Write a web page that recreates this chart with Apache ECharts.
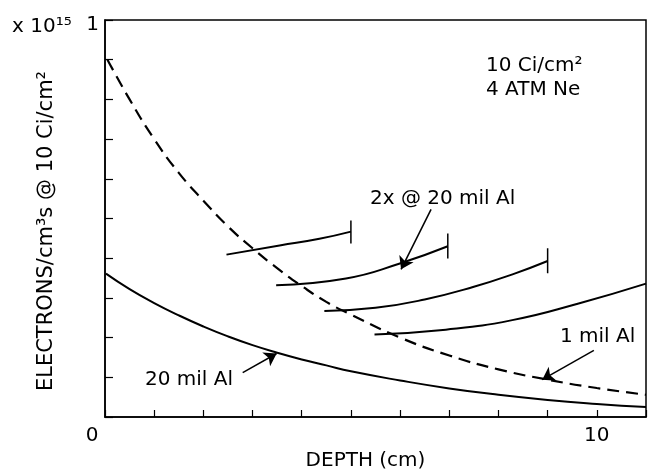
<!DOCTYPE html>
<html>
<head>
<meta charset="utf-8">
<script src="https://cdn.jsdelivr.net/npm/echarts@6/dist/echarts.min.js"></script>
<style>html,body{margin:0;padding:0;background:#fff}#c{width:648px;height:469px}</style>
</head>
<body>
<div id="c"></div>
<script>
// ---- data (depth cm, electrons/cm^3 s x1e15) ----
const mil1Al = [[0.05,0.90],[0.5,0.80],[1,0.70],[1.5,0.615],[2,0.545],[2.5,0.48],[3,0.425],[3.5,0.375],[4,0.33],[4.5,0.29],[5,0.258],[6,0.200],[7,0.155],[8,0.120],[9,0.094],[10,0.073],[11,0.056]];
const mil20Al = [[0.02,0.361],[0.5,0.322],[1,0.287],[1.5,0.256],[2,0.228],[2.5,0.203],[3,0.181],[3.5,0.162],[4,0.145],[4.5,0.130],[5,0.115],[6,0.092],[7,0.072],[8,0.056],[9,0.043],[10,0.033],[11,0.025]];
const twoxA = [[2.47,0.409],[3.55,0.432],[4.36,0.449],[5.0,0.467]];
const twoxB = [[3.48,0.332],[4.90,0.349],[5.98,0.386],[6.97,0.430]];
const twoxC = [[4.46,0.267],[5.5,0.275],[6.5,0.296],[7.5,0.328],[8.3,0.360],[9.0,0.393]];
const twoxD = [[5.48,0.208],[6.93,0.220],[8.28,0.244],[9.63,0.286],[11.0,0.336]];
// end ticks of the short curves: [x, yLow, yHigh]
const endTicks = [[5.0,0.437,0.495],[6.97,0.399,0.462],[9.0,0.362,0.425]];
// arrows: [fromX, fromY, toX, toY]
const arrow20 = [2.80,0.112,3.49,0.160];
const arrow1 = [9.94,0.168,8.89,0.094];
const arrow2x = [6.63,0.523,6.02,0.372];
const xTickLabels = {0:'0',10:'10'};
const yTickLabels = ['1'];

const FONT = 'DejaVu Sans';
const chart = echarts.init(document.getElementById('c'), null, {renderer:'canvas'});
const solid = {color:'#000', width:2, type:'solid'};
function arrowML(a){
  return {silent:true, symbol:['none','arrow'], symbolSize:12, label:{show:false},
    itemStyle:{color:'#000'},
    lineStyle:{color:'#000', width:1.5, type:'solid'},
    data:[[{coord:[a[0],a[1]]},{coord:[a[2],a[3]]}]]};
}
const series = [
  {name:'1 mil Al', type:'line', data:mil1Al, smooth:true, symbol:'none', lineStyle:{color:'#000', width:2.2, type:[12,7]}, markLine:arrowML(arrow1)},
  {name:'20 mil Al', type:'line', data:mil20Al, smooth:true, symbol:'none', lineStyle:solid, markLine:arrowML(arrow20)},
  {name:'2x A', type:'line', data:twoxA, smooth:true, symbol:'none', lineStyle:solid},
  {name:'2x B', type:'line', data:twoxB, smooth:true, symbol:'none', lineStyle:solid, markLine:arrowML(arrow2x)},
  {name:'2x C', type:'line', data:twoxC, smooth:true, symbol:'none', lineStyle:solid},
  {name:'2x D', type:'line', data:twoxD, smooth:true, symbol:'none', lineStyle:solid}
];
endTicks.forEach((t,i)=>{
  series.push({name:'tick'+i, type:'line', data:[[t[0],t[1]],[t[0],t[2]]], symbol:'none', lineStyle:{color:'#000', width:1.5}});
});

chart.setOption({
  animation:false,
  backgroundColor:'#fff',
  grid:{left:105, right:2, top:20, bottom:52, show:true, borderColor:'#000', borderWidth:1.5,
    containLabel:false, outerBoundsMode:'none'},
  xAxis:{type:'value', min:0, max:11, interval:1,
    axisLine:{lineStyle:{color:'#000', width:1.5}},
    axisTick:{inside:true, length:7, lineStyle:{color:'#000', width:1.2}},
    splitLine:{show:false},
    axisLabel:{margin:9, color:'#000', fontFamily:FONT, fontSize:20,
      formatter:v=>{ if(v===0) return '{z|'+xTickLabels[0]+'}'; return xTickLabels[v]||''; },
      rich:{z:{fontFamily:FONT, fontSize:20, color:'#000', padding:[0,26,0,0]}}},
    name:'DEPTH (cm)', nameLocation:'middle', nameGap:34,
    nameTextStyle:{color:'#000', fontFamily:FONT, fontSize:20, padding:[0,20,0,0]}
  },
  yAxis:{type:'value', min:0, max:1, interval:0.1,
    axisLine:{show:true, lineStyle:{color:'#000', width:1.5}},
    axisTick:{show:true, inside:true, length:8, lineStyle:{color:'#000', width:1.2}},
    splitLine:{show:false},
    axisLabel:{margin:6, color:'#000', fontFamily:FONT, fontSize:20,
      formatter:v=> Math.abs(v-1)<1e-9 ? '{o|'+yTickLabels[0]+'}' : '',
      rich:{o:{fontFamily:FONT, fontSize:20, color:'#000', padding:[10,0,0,0]}}}
  },
  series:series,
  graphic:[
    {type:'text', x:12, y:27, style:{text:'x 10¹⁵', font:'20px "DejaVu Sans"', fill:'#000', align:'left', verticalAlign:'middle'}},
    {type:'text', x:47, y:231, rotation:Math.PI/2, style:{text:'ELECTRONS/cm³s @ 10 Ci/cm²', font:'21px "DejaVu Sans"', fill:'#000', align:'center', verticalAlign:'middle'}},
    {type:'text', x:486, y:66, style:{text:'10 Ci/cm²', font:'20px "DejaVu Sans"', fill:'#000', align:'left', verticalAlign:'middle'}},
    {type:'text', x:486, y:90, style:{text:'4 ATM Ne', font:'20px "DejaVu Sans"', fill:'#000', align:'left', verticalAlign:'middle'}},
    {type:'text', x:370, y:199, style:{text:'2x @ 20 mil Al', font:'20px "DejaVu Sans"', fill:'#000', align:'left', verticalAlign:'middle'}},
    {type:'text', x:560, y:337, style:{text:'1 mil Al', font:'20px "DejaVu Sans"', fill:'#000', align:'left', verticalAlign:'middle'}},
    {type:'text', x:145, y:380, style:{text:'20 mil Al', font:'20px "DejaVu Sans"', fill:'#000', align:'left', verticalAlign:'middle'}}
  ]
});
</script>
</body>
</html>
